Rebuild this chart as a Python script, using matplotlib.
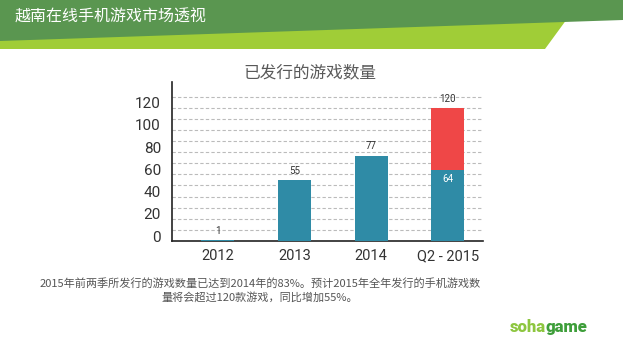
import numpy as np
import matplotlib.pyplot as plt
from matplotlib.patches import Polygon
from matplotlib.transforms import ScaledTranslation

plt.rcParams['font.family'] = ['Roboto', 'Noto Sans CJK SC', 'DejaVu Sans']

# Data
years = ["2012", "2013", "2014", "Q2 - 2015"]
released = [1, 55, 77, 64]          # teal part
forecast_extra = [0, 0, 0, 56]      # red part on top of Q2 - 2015 (total 120)
totals = [1, 55, 77, 120]

teal = "#2f8ba6"
red = "#ef4747"

fig = plt.figure(figsize=(6.23, 3.56), dpi=100)
fig.patch.set_facecolor("white")

# header bands
H = 356.0
W = 623.0
lime = Polygon([(0, 1 - 49 / H), (545 / W, 1 - 49 / H), (575 / W, 1 - 8 / H), (0, 1 - 8 / H)],
               closed=True, transform=fig.transFigure, facecolor="#a0cd37", edgecolor="none")
dark = Polygon([(0, 1), (1, 1), (1, 1 - 20 / H), (0, 1 - 41 / H)],
               closed=True, transform=fig.transFigure, facecolor="#5a9650", edgecolor="none")
fig.patches.extend([lime, dark])
fig.text(15 / W, 1 - 17 / H, "越南在线手机游戏市场透视", color="white", fontsize=11.5,
         family=["Noto Sans CJK SC", "DejaVu Sans"], va="center", ha="left")

# chart
ax = fig.add_axes([172 / W, 1 - 241 / H, (483 - 172) / W, (241 - 81.7) / H])
x = np.arange(len(years))
ax.bar(x, released, width=0.43, color=teal, zorder=3)
ax.bar(x, forecast_extra, width=0.43, bottom=released, color=red, zorder=3)

ax.set_xlim(-0.6, 3.46)
ax.set_ylim(0, 143.5)
ax.set_yticks(np.arange(0, 121, 20))

# dashed grid every 10
for g in np.arange(10, 131, 10):
    ax.axhline(g, color="#bbbbbb", linestyle=(0, (3, 2)), linewidth=0.8, zorder=0)

ax.tick_params(axis="both", which="both", length=0)
ax.tick_params(axis="y", labelsize=11, labelcolor="#333333", pad=8)
ax.tick_params(axis="x", labelsize=10.5, labelcolor="#333333", pad=6)
ax.set_xticks(x)
ax.set_xticklabels(years)
for lab in ax.get_yticklabels():
    lab.set_transform(lab.get_transform() + ScaledTranslation(0, 0.05, fig.dpi_scale_trans))

for s in ["top", "right"]:
    ax.spines[s].set_visible(False)
for s in ["left", "bottom"]:
    ax.spines[s].set_color("#222222")
    ax.spines[s].set_linewidth(1.2)

for i, t in enumerate(totals):
    ax.annotate(str(t), (x[i], t), xytext=(0, 3), textcoords="offset points",
                ha="center", va="bottom", fontsize=7, color="#333333")
ax.annotate("64", (x[3], released[3]), xytext=(0, -3), textcoords="offset points",
            ha="center", va="top", fontsize=7, color="white")

fig.text(310 / W, 1 - 73 / H, "已发行的游戏数量", ha="center", va="center", fontsize=12,
         color="#595959", family=["Noto Sans CJK SC", "DejaVu Sans"])

# caption
fig.text(260 / W, 1 - 290 / H,
         "2015年前两季所发行的游戏数量已达到2014年的83%。预计2015年全年发行的手机游戏数\n"
         "量将会超过120款游戏，同比增加55%。",
         ha="center", va="center", fontsize=8, color="#555555", linespacing=1.3,
         family=["Noto Sans CJK SC", "DejaVu Sans"])

# logo
fig.text(546 / W, 1 - 327 / H, "soha", ha="right", va="center", fontsize=12,
         fontweight="heavy", color="#8dc63f")
fig.text(546 / W, 1 - 327 / H, "game", ha="left", va="center", fontsize=12,
         fontweight="heavy", color="#3e9e3a")

fig.savefig("out.png", dpi=100)
